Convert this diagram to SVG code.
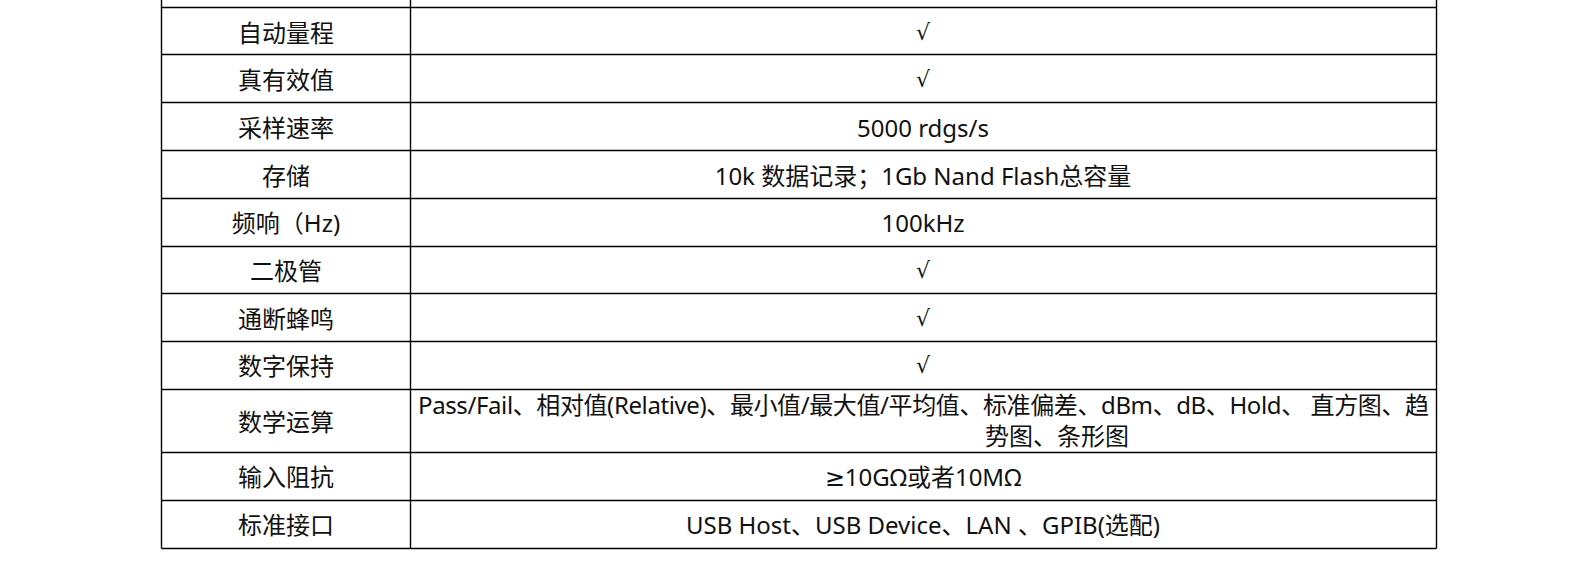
<svg xmlns="http://www.w3.org/2000/svg" width="1587" height="573" viewBox="0 0 1587 573">
<style>
.grid line{stroke:#000;stroke-width:1.4}
text{font-family:"Noto Sans","DejaVu Sans","Noto Sans CJK SC",sans-serif;font-size:24px;fill:#111;dominant-baseline:central}
.c{text-anchor:middle}
.m{font-family:"DejaVu Sans",sans-serif;font-size:22px}
</style>
<rect width="1587" height="573" fill="#fff"/>
<g id="grid" class="grid">
<line x1="161.5" y1="0" x2="161.5" y2="548.5"/>
<line x1="410.5" y1="0" x2="410.5" y2="548.5"/>
<line x1="1436.5" y1="0" x2="1436.5" y2="548.5"/>
<line x1="161.5" y1="7.5" x2="1436.5" y2="7.5"/>
<line x1="161.5" y1="54.5" x2="1436.5" y2="54.5"/>
<line x1="161.5" y1="102.5" x2="1436.5" y2="102.5"/>
<line x1="161.5" y1="150.5" x2="1436.5" y2="150.5"/>
<line x1="161.5" y1="198.5" x2="1436.5" y2="198.5"/>
<line x1="161.5" y1="246.5" x2="1436.5" y2="246.5"/>
<line x1="161.5" y1="293.5" x2="1436.5" y2="293.5"/>
<line x1="161.5" y1="341.5" x2="1436.5" y2="341.5"/>
<line x1="161.5" y1="389.5" x2="1436.5" y2="389.5"/>
<line x1="161.5" y1="452.5" x2="1436.5" y2="452.5"/>
<line x1="161.5" y1="500.5" x2="1436.5" y2="500.5"/>
<line x1="161.5" y1="548.5" x2="1436.5" y2="548.5"/>
</g>
<g id="row1"><text class="c" x="286" y="32">自动量程</text><text class="c m" x="923" y="32">√</text></g>
<g id="row2"><text class="c" x="286" y="79">真有效值</text><text class="c m" x="923" y="79">√</text></g>
<g id="row3"><text class="c" x="286" y="127">采样速率</text><text class="c" x="923" y="127">5000 rdgs/s</text></g>
<g id="row4"><text class="c" x="286" y="175">存储</text><text class="c" x="923" y="175">10k 数据记录；1Gb Nand Flash总容量</text></g>
<g id="row5"><text class="c" x="286" y="222">频响（Hz)</text><text class="c" x="923" y="222">100kHz</text></g>
<g id="row6"><text class="c" x="286" y="270">二极管</text><text class="c m" x="923" y="270">√</text></g>
<g id="row7"><text class="c" x="286" y="318">通断蜂鸣</text><text class="c m" x="923" y="318">√</text></g>
<g id="row8"><text class="c" x="286" y="365">数字保持</text><text class="c m" x="923" y="365">√</text></g>
<g id="row9"><text class="c" x="286" y="421">数学运算</text>
<text x="418" y="404" textLength="1011" lengthAdjust="spacing" xml:space="preserve">Pass/Fail、相对值(Relative)、最小值/最大值/平均值、标准偏差、dBm、dB、Hold、 直方图、趋</text>
<text x="985" y="435">势图、条形图</text></g>
<g id="row10"><text class="c" x="286" y="476">输入阻抗</text><text class="c" x="923" y="476">≥10GΩ或者10MΩ</text></g>
<g id="row11"><text class="c" x="286" y="524">标准接口</text><text class="c" x="923" y="524">USB Host、USB Device、LAN 、GPIB(选配)</text></g>
</svg>
